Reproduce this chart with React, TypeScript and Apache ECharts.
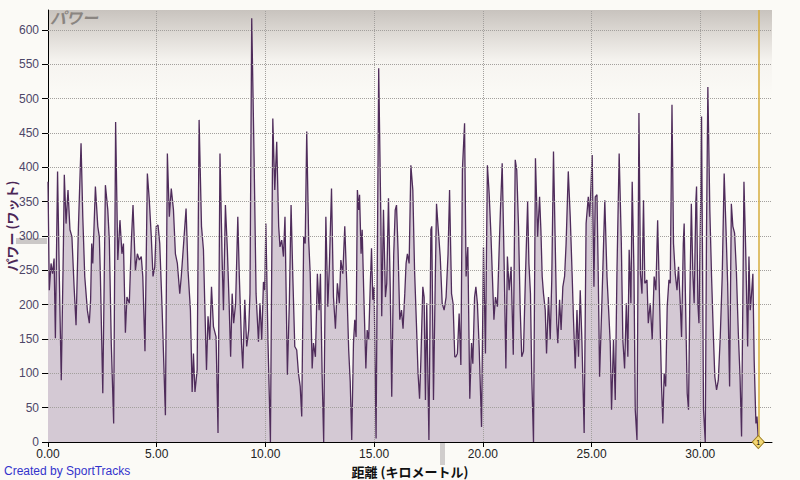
import { useEffect, useRef } from "react";
import * as echarts from "echarts";

type Pt = [number, number];

// distance (km), power (W), in segments
const trace0to5: Pt[] = [
  [0.0, 379], [0.06, 221], [0.14, 260], [0.21, 245], [0.28, 267], [0.34, 151], [0.44, 394], [0.52, 241],
  [0.61, 90], [0.71, 289], [0.75, 389], [0.83, 318], [0.92, 367], [1.01, 309], [1.1, 299], [1.2, 226],
  [1.29, 170], [1.4, 314], [1.52, 435], [1.6, 328], [1.69, 241], [1.81, 192], [1.9, 173], [1.96, 207],
  [2.01, 289], [2.06, 260], [2.18, 372], [2.29, 314], [2.36, 299], [2.41, 241], [2.52, 71], [2.64, 374],
  [2.75, 338], [2.82, 294], [2.91, 144], [3.02, 27], [3.11, 466], [3.21, 265], [3.31, 323], [3.4, 274],
  [3.47, 289], [3.56, 159], [3.63, 211], [3.74, 202], [3.83, 289], [3.91, 345], [4.02, 250], [4.11, 274],
  [4.2, 265], [4.29, 270], [4.36, 241], [4.46, 132], [4.57, 391], [4.66, 352], [4.75, 299], [4.83, 241],
  [4.91, 255], [4.98, 314],
];
const trace5to10: Pt[] = [
  [5.06, 316], [5.14, 289], [5.25, 192], [5.4, 39], [5.49, 420], [5.58, 328], [5.67, 369], [5.77, 338],
  [5.86, 274], [5.95, 260], [6.06, 216], [6.13, 241], [6.26, 299], [6.35, 340], [6.44, 250], [6.55, 192],
  [6.63, 73], [6.69, 129], [6.76, 73], [6.86, 105], [6.95, 469], [7.06, 314], [7.15, 280], [7.21, 202],
  [7.29, 105], [7.36, 183], [7.44, 149], [7.52, 226], [7.61, 168], [7.73, 153], [7.82, 13], [7.91, 420],
  [8.01, 265], [8.07, 192], [8.16, 345], [8.25, 280], [8.33, 202], [8.4, 124], [8.47, 216], [8.54, 173],
  [8.63, 202], [8.73, 328], [8.8, 241], [8.9, 144], [8.96, 107], [9.05, 207], [9.14, 139], [9.23, 163],
  [9.29, 216], [9.37, 617], [9.48, 411], [9.57, 216], [9.68, 146], [9.75, 202], [9.83, 149], [9.91, 233],
  [9.97, 221],
];
const trace10to15: Pt[] = [
  [10.02, 318], [10.12, 144], [10.23, 0], [10.34, 471], [10.43, 367], [10.52, 437], [10.61, 314], [10.67, 284],
  [10.75, 294], [10.83, 270], [10.9, 328], [11.01, 98], [11.1, 202], [11.18, 345], [11.26, 241], [11.35, 139],
  [11.44, 134], [11.52, 100], [11.6, 81], [11.67, 37], [11.76, 299], [11.83, 289], [11.9, 452], [11.99, 294],
  [12.06, 245], [12.15, 107], [12.21, 144], [12.3, 124], [12.39, 245], [12.47, 192], [12.53, 245], [12.61, 95],
  [12.68, 0], [12.78, 328], [12.87, 197], [12.94, 255], [13.04, 369], [13.13, 211], [13.22, 165], [13.31, 231],
  [13.4, 202], [13.47, 265], [13.56, 245], [13.65, 314], [13.74, 231], [13.83, 134], [13.9, 88], [13.97, 3],
  [14.05, 144], [14.11, 178], [14.17, 153], [14.23, 367], [14.29, 338], [14.33, 360], [14.4, 274], [14.45, 309],
  [14.52, 221], [14.62, 107], [14.68, 163], [14.75, 149], [14.82, 226], [14.88, 282], [14.94, 207], [15.0, 226],
];
const trace15to20: Pt[] = [
  [15.09, 5], [15.21, 544], [15.31, 323], [15.35, 183], [15.43, 338], [15.52, 211], [15.58, 231], [15.66, 355],
  [15.74, 226], [15.81, 66], [15.9, 272], [15.97, 338], [16.03, 345], [16.1, 280], [16.18, 178], [16.26, 192],
  [16.33, 165], [16.41, 216], [16.47, 260], [16.53, 274], [16.61, 260], [16.69, 403], [16.78, 367], [16.86, 250],
  [16.95, 168], [17.02, 100], [17.09, 63], [17.15, 119], [17.24, 226], [17.3, 211], [17.36, 61], [17.42, 202],
  [17.52, 3], [17.61, 309], [17.65, 314], [17.73, 61], [17.81, 231], [17.87, 347], [17.94, 314], [18.04, 270],
  [18.13, 202], [18.22, 192], [18.31, 211], [18.4, 274], [18.47, 367], [18.56, 216], [18.63, 202], [18.71, 124],
  [18.76, 124], [18.83, 129], [18.91, 187], [18.99, 112], [19.06, 396], [19.16, 464], [19.23, 241], [19.31, 284],
  [19.4, 63], [19.48, 144], [19.54, 114], [19.62, 211], [19.68, 226], [19.75, 202], [19.83, 139], [19.94, 22],
];
const trace20to25: Pt[] = [
  [20.03, 284], [20.12, 129], [20.21, 403], [20.29, 362], [20.37, 304], [20.44, 241], [20.51, 178], [20.58, 211],
  [20.67, 197], [20.75, 280], [20.81, 338], [20.89, 406], [20.98, 260], [21.06, 107], [21.13, 270], [21.21, 221],
  [21.3, 255], [21.4, 127], [21.49, 411], [21.56, 396], [21.64, 314], [21.72, 192], [21.79, 124], [21.87, 132],
  [21.96, 241], [22.06, 350], [22.12, 260], [22.19, 216], [22.25, 95], [22.33, 0], [22.42, 413], [22.52, 299],
  [22.61, 357], [22.67, 309], [22.73, 241], [22.79, 216], [22.87, 192], [22.93, 129], [23.02, 211], [23.1, 149],
  [23.17, 236], [23.25, 423], [23.33, 289], [23.4, 173], [23.45, 144], [23.53, 207], [23.6, 163], [23.68, 226],
  [23.76, 241], [23.83, 289], [23.93, 394], [24.02, 328], [24.11, 241], [24.17, 178], [24.25, 107], [24.33, 192],
  [24.4, 124], [24.48, 221], [24.56, 144], [24.66, 13], [24.75, 318], [24.85, 357], [24.91, 328], [24.97, 369],
];
const trace25to30: Pt[] = [
  [25.03, 418], [25.11, 226], [25.17, 357], [25.25, 360], [25.31, 241], [25.37, 95], [25.48, 207], [25.61, 352],
  [25.71, 241], [25.8, 183], [25.86, 144], [25.92, 47], [26.01, 149], [26.09, 61], [26.17, 250], [26.27, 420],
  [26.37, 289], [26.44, 149], [26.52, 107], [26.6, 202], [26.67, 124], [26.73, 280], [26.81, 202], [26.87, 379],
  [26.95, 250], [27.01, 47], [27.09, 3], [27.18, 479], [27.25, 245], [27.32, 216], [27.39, 352], [27.45, 231],
  [27.55, 236], [27.61, 173], [27.7, 202], [27.79, 149], [27.88, 241], [27.96, 221], [28.04, 323], [28.14, 192],
  [28.22, 81], [28.28, 27], [28.34, 100], [28.41, 81], [28.48, 197], [28.56, 236], [28.62, 231], [28.7, 491],
  [28.77, 289], [28.85, 245], [28.93, 221], [29.0, 255], [29.08, 202], [29.14, 153], [29.22, 289], [29.26, 318],
  [29.33, 192], [29.4, 71], [29.46, 47], [29.52, 207], [29.59, 347], [29.66, 245], [29.72, 202], [29.8, 352],
  [29.83, 372], [29.89, 202], [29.94, 173],
];
const trace30toEnd: Pt[] = [
  [30.02, 352], [30.06, 474], [30.15, 47], [30.23, 0], [30.29, 314], [30.35, 517], [30.44, 338], [30.52, 241],
  [30.61, 149], [30.67, 95], [30.75, 76], [30.83, 90], [30.92, 153], [31.01, 241], [31.1, 391], [31.18, 314],
  [31.26, 231], [31.35, 81], [31.43, 347], [31.5, 314], [31.58, 304], [31.66, 250], [31.75, 159], [31.83, 95],
  [31.9, 8], [32.01, 379], [32.09, 280], [32.18, 139], [32.24, 270], [32.3, 192], [32.36, 216], [32.42, 245],
  [32.48, 119], [32.56, 27], [32.61, 37], [32.67, 3],
];

const powerTrace: Pt[] = [
  ...trace0to5, ...trace5to10, ...trace10to15, ...trace15to20,
  ...trace20to25, ...trace25to30, ...trace30toEnd,
];

const cursorKm = 32.67;
const xMax = 33.3;
const yMax = 629;
const xTickStep = 5;
const yTickStep = 50;
const xGridValues = [5, 10, 15, 20, 25, 30];
const yGridValues = [50, 100, 150, 200, 250, 300, 350, 400, 450, 500, 550, 600];

const titleText = "パワー";
const yAxisName = "パワー (ワット)";
const xAxisName = "距離 (キロメートル)";
const creditText = "Created by SportTracks";

export default function App() {
  const ref = useRef<HTMLDivElement>(null);

  useEffect(() => {
    if (!ref.current) return;
    const chart = echarts.init(ref.current, null, { renderer: "svg" });
    const gridLine = { color: "#a3a09d", type: "dotted" as const, width: 1 };
    chart.setOption({
      animation: false,
      backgroundColor: "#fbfaf6",
      textStyle: { fontFamily: "Liberation Sans, Arial, sans-serif" },
      grid: {
        left: 48,
        top: 10,
        right: 28,
        bottom: 38,
        containLabel: false,
        outerBoundsMode: "none",
        show: true,
        borderWidth: 0,
        backgroundColor: new echarts.graphic.LinearGradient(0, 0, 0, 1, [
          { offset: 0, color: "#c8c3be" },
          { offset: 0.05, color: "#dcd8d3" },
          { offset: 0.12, color: "#f6f4f0" },
          { offset: 0.2, color: "#fbfaf6" },
          { offset: 1, color: "#fbfaf6" },
        ]),
      },
      xAxis: {
        type: "value",
        min: 0,
        max: xMax,
        interval: xTickStep,
        name: xAxisName,
        nameLocation: "middle",
        nameGap: 22,
        nameMoveOverlap: false,
        nameTextStyle: {
          fontFamily: "Noto Sans CJK JP",
          fontWeight: "bold",
          fontSize: 13,
          lineHeight: 14,
          color: "#111",
        },
        axisLine: { show: true, lineStyle: { color: "#000", width: 1 } },
        axisTick: { show: true, length: 5, lineStyle: { color: "#000" } },
        axisLabel: {
          color: "#222",
          fontSize: 12,
          margin: 6,
          showMaxLabel: false,
          formatter: (v: number) => v.toFixed(2),
        },
        splitLine: { show: false },
      },
      yAxis: {
        type: "value",
        min: 0,
        max: yMax,
        interval: yTickStep,
        name: yAxisName,
        nameLocation: "middle",
        nameRotate: 90,
        nameGap: 30,
        nameMoveOverlap: false,
        nameTextStyle: {
          fontFamily: "Noto Sans CJK JP",
          fontWeight: "bold",
          fontSize: 13,
          color: "#4b2656",
        },
        axisLine: { show: true, lineStyle: { color: "#000", width: 1 } },
        axisTick: { show: true, length: 6, lineStyle: { color: "#000" } },
        axisLabel: {
          color: "#4d4668",
          fontSize: 12,
          margin: 9,
          showMaxLabel: false,
        },
        splitLine: { show: false },
      },
      series: [
        {
          type: "line",
          data: powerTrace,
          showSymbol: false,
          z: 1,
          lineStyle: { width: 0 },
          areaStyle: { color: "#d4c9d4", opacity: 1 },
        },
        {
          type: "line",
          data: powerTrace,
          showSymbol: false,
          z: 2,
          lineStyle: { width: 0, opacity: 0 },
          markLine: {
            silent: true,
            symbol: ["none", "none"],
            label: { show: false },
            lineStyle: gridLine,
            data: [
              ...xGridValues.map((v) => ({ xAxis: v })),
              ...yGridValues.map((v) => ({ yAxis: v })),
            ],
          },
        },
        {
          type: "line",
          data: powerTrace,
          showSymbol: false,
          z: 3,
          lineStyle: { color: "#4f2c5b", width: 1.3 },
          markLine: {
            silent: true,
            symbol: ["none", "none"],
            label: { show: false },
            lineStyle: { color: "#d6ac3c", type: "solid", width: 1.5 },
            data: [{ xAxis: cursorKm }],
          },
          markPoint: {
            silent: true,
            symbol: "diamond",
            symbolSize: [12, 13],
            itemStyle: { color: "#f2d877", borderColor: "#9a7a1a", borderWidth: 1 },
            label: { show: true, formatter: "1", fontSize: 7, color: "#000" },
            data: [{ coord: [cursorKm, 0] }],
          },
        },
      ],
      graphic: [
        {
          type: "text",
          left: 50,
          top: 9,
          style: {
            text: titleText,
            fill: "#8a8581",
            fontSize: 16,
            fontStyle: "italic",
            fontWeight: "bold",
            fontFamily: "Noto Sans CJK JP",
          },
          z: 10,
        },
        {
          type: "rect",
          shape: { x: 16, y: 238, width: 31, height: 6 },
          style: { fill: "#cbc8c7" },
          z: 0,
        },
        {
          type: "rect",
          shape: { x: 440, y: 443, width: 5, height: 22 },
          style: { fill: "#d0cdcc" },
          z: 0,
        },
        {
          type: "text",
          left: 4,
          top: 465,
          style: {
            text: creditText,
            fill: "#3333cc",
            fontSize: 12,
            fontFamily: "Liberation Sans, Arial, sans-serif",
          },
          z: 10,
        },
      ],
    });
    return () => chart.dispose();
  }, []);

  return (
    <div
      ref={ref}
      style={{ position: "fixed", left: 0, top: 0, width: 800, height: 480 }}
    />
  );
}
